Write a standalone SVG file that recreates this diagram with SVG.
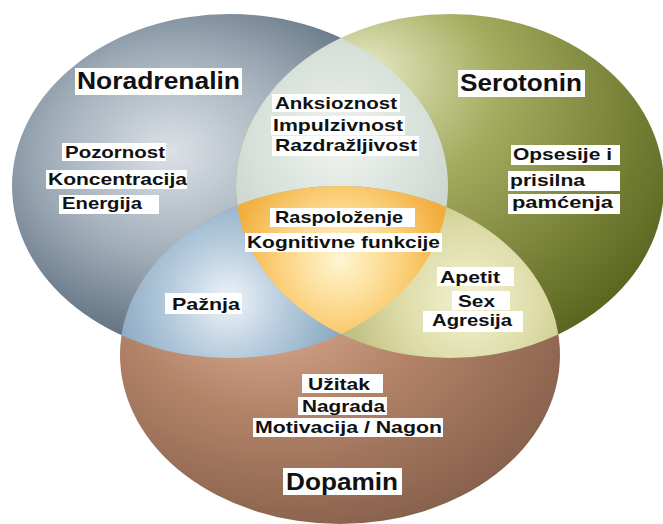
<svg xmlns="http://www.w3.org/2000/svg" width="663" height="524" viewBox="0 0 663 524">
<style>
.box{fill:#fff}
.t{font-family:"Liberation Sans",Arial,sans-serif;font-weight:bold;fill:#111}
.h{font-size:24px}
.i{font-size:17px}
</style>
<defs>
<radialGradient id="gL" cx="0.4" cy="0.42" r="0.62" fx="0.36" fy="0.4">
<stop offset="0" stop-color="#dce1e6"/><stop offset="0.5" stop-color="#9eabb7"/><stop offset="1" stop-color="#4e5f6f"/>
</radialGradient>
<radialGradient id="gR" cx="0.35" cy="0.3" r="0.75" fx="0.3" fy="0.15">
<stop offset="0" stop-color="#e6e8c2"/><stop offset="0.4" stop-color="#a3ab5e"/><stop offset="1" stop-color="#5a661f"/>
</radialGradient>
<radialGradient id="gB" cx="0.4" cy="0.35" r="0.7" fx="0.3" fy="0.3">
<stop offset="0" stop-color="#e0b49a"/><stop offset="0.5" stop-color="#b38368"/><stop offset="1" stop-color="#86604c"/>
</radialGradient>
<radialGradient id="gTop" gradientUnits="userSpaceOnUse" cx="340" cy="140" r="120">
<stop offset="0" stop-color="#f1f4f1"/><stop offset="1" stop-color="#cdd8d0"/>
</radialGradient>
<radialGradient id="gP" gradientUnits="userSpaceOnUse" cx="228" cy="300" r="120">
<stop offset="0" stop-color="#eef3f8"/><stop offset="0.5" stop-color="#b4cadc"/><stop offset="1" stop-color="#86a6c0"/>
</radialGradient>
<radialGradient id="gA" gradientUnits="userSpaceOnUse" cx="470" cy="300" r="120">
<stop offset="0" stop-color="#f4f2d4"/><stop offset="0.6" stop-color="#dcdba6"/><stop offset="1" stop-color="#c3c285"/>
</radialGradient>
<radialGradient id="gC" gradientUnits="userSpaceOnUse" cx="340" cy="260" r="110">
<stop offset="0" stop-color="#fff6d2"/><stop offset="0.55" stop-color="#fbd27e"/><stop offset="1" stop-color="#f2ad3c"/>
</radialGradient>
<clipPath id="cL"><ellipse cx="230" cy="186" rx="218" ry="172"/></clipPath>
<clipPath id="cR"><ellipse cx="450" cy="186" rx="214" ry="172"/></clipPath>
</defs>
<rect width="663" height="524" fill="#fff"/>

<g id="noradrenalin">
<ellipse cx="230" cy="186" rx="218" ry="172" fill="url(#gL)"/>
</g>
<g id="serotonin">
<ellipse cx="450" cy="186" rx="214" ry="172" fill="url(#gR)"/>
</g>
<g id="dopamin">
<ellipse cx="340" cy="355" rx="220" ry="169" fill="url(#gB)"/>
</g>
<g id="overlap-nor-ser" clip-path="url(#cL)">
<ellipse cx="450" cy="186" rx="214" ry="172" fill="url(#gTop)"/>
</g>
<g id="overlap-nor-dop" clip-path="url(#cL)">
<ellipse cx="340" cy="355" rx="220" ry="169" fill="url(#gP)"/>
</g>
<g id="overlap-ser-dop" clip-path="url(#cR)">
<ellipse cx="340" cy="355" rx="220" ry="169" fill="url(#gA)"/>
</g>
<g id="overlap-all" clip-path="url(#cL)">
<g clip-path="url(#cR)">
<ellipse cx="340" cy="355" rx="220" ry="169" fill="url(#gC)"/>
</g>
</g>

<g id="labels">
<rect class="box" x="75" y="68" width="167" height="27"/>
<text class="t h" x="77" y="89" textLength="163" lengthAdjust="spacingAndGlyphs">Noradrenalin</text>
<rect class="box" x="458" y="70" width="127" height="27"/>
<text class="t h" x="460" y="91" textLength="122" lengthAdjust="spacingAndGlyphs">Serotonin</text>
<rect class="box" x="283" y="468" width="119" height="27"/>
<text class="t h" x="286" y="490" textLength="112" lengthAdjust="spacingAndGlyphs">Dopamin</text>

<rect class="box" x="62" y="143" width="104" height="18"/>
<text class="t i" x="65" y="158" textLength="100" lengthAdjust="spacingAndGlyphs">Pozornost</text>
<rect class="box" x="46" y="170" width="141" height="19"/>
<text class="t i" x="48" y="185" textLength="139" lengthAdjust="spacingAndGlyphs">Koncentracija</text>
<rect class="box" x="59" y="195" width="100" height="19"/>
<text class="t i" x="62" y="209" textLength="80" lengthAdjust="spacingAndGlyphs">Energija</text>

<rect class="box" x="272" y="94" width="128" height="18"/>
<text class="t i" x="275" y="109" textLength="122" lengthAdjust="spacingAndGlyphs">Anksioznost</text>
<rect class="box" x="271" y="116" width="134" height="19"/>
<text class="t i" x="273" y="131" textLength="130" lengthAdjust="spacingAndGlyphs">Impulzivnost</text>
<rect class="box" x="272" y="136" width="147" height="20"/>
<text class="t i" x="275" y="151" textLength="142" lengthAdjust="spacingAndGlyphs">Razdražljivost</text>

<rect class="box" x="270" y="208" width="145" height="19"/>
<text class="t i" x="275" y="223" textLength="128" lengthAdjust="spacingAndGlyphs">Raspoloženje</text>
<rect class="box" x="245" y="233" width="197" height="19"/>
<text class="t i" x="247" y="248" textLength="193" lengthAdjust="spacingAndGlyphs">Kognitivne funkcije</text>

<rect class="box" x="511" y="145" width="109" height="20"/>
<text class="t i" x="513" y="160" textLength="99" lengthAdjust="spacingAndGlyphs">Opsesije i</text>
<rect class="box" x="508" y="171" width="112" height="20"/>
<text class="t i" x="510" y="186" textLength="75" lengthAdjust="spacingAndGlyphs">prisilna</text>
<rect class="box" x="508" y="194" width="112" height="20"/>
<text class="t i" x="512" y="208" textLength="101" lengthAdjust="spacingAndGlyphs">pamćenja</text>

<rect class="box" x="165" y="293" width="77" height="21"/>
<text class="t i" x="172" y="310" textLength="68" lengthAdjust="spacingAndGlyphs">Pažnja</text>

<rect class="box" x="437" y="267" width="77" height="19"/>
<text class="t i" x="440" y="283" textLength="60" lengthAdjust="spacingAndGlyphs">Apetit</text>
<rect class="box" x="452" y="291" width="58" height="19"/>
<text class="t i" x="458" y="307" textLength="37" lengthAdjust="spacingAndGlyphs">Sex</text>
<rect class="box" x="423" y="311" width="100" height="21"/>
<text class="t i" x="432" y="326" textLength="80" lengthAdjust="spacingAndGlyphs">Agresija</text>

<rect class="box" x="302" y="374" width="81" height="19"/>
<text class="t i" x="308" y="390" textLength="62" lengthAdjust="spacingAndGlyphs">Užitak</text>
<rect class="box" x="298" y="397" width="89" height="18"/>
<text class="t i" x="302" y="412" textLength="83" lengthAdjust="spacingAndGlyphs">Nagrada</text>
<rect class="box" x="253" y="418" width="190" height="19"/>
<text class="t i" x="255" y="433" textLength="187" lengthAdjust="spacingAndGlyphs">Motivacija / Nagon</text>
</g>
</svg>
